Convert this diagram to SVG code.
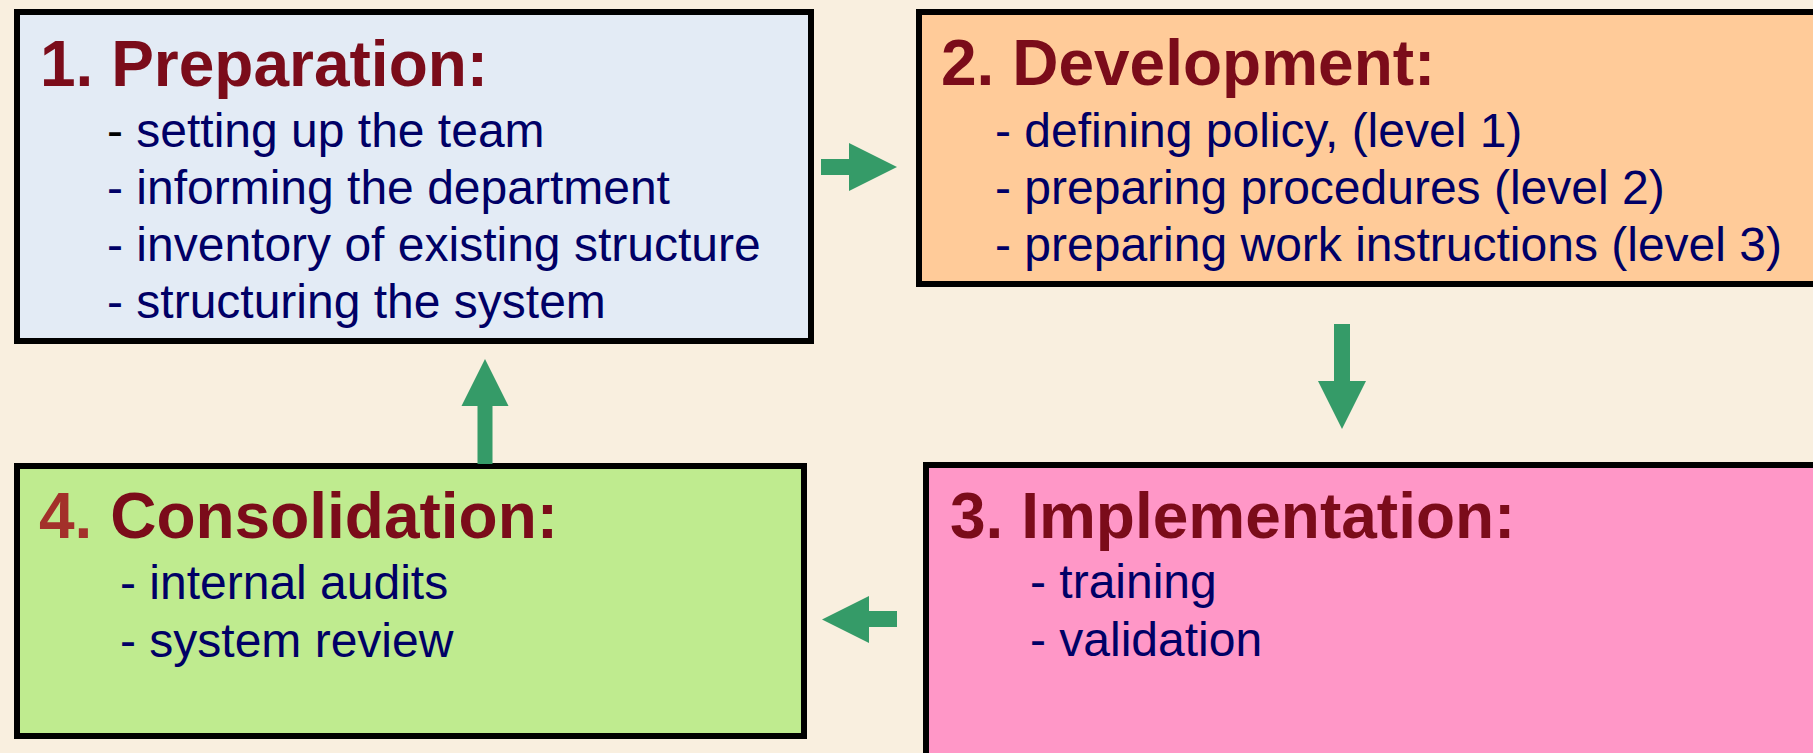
<svg xmlns="http://www.w3.org/2000/svg" width="1813" height="753" viewBox="0 0 1813 753">
<style>
.box{stroke:#000;stroke-width:6}
.title{font-family:"Liberation Sans",Arial,sans-serif;font-weight:bold;font-size:64px;fill:#7b0c1a}
.item{font-family:"Liberation Sans",Arial,sans-serif;font-size:48px;fill:#000066}
.arrow{fill:#359b68}
</style>
<rect x="0" y="0" width="1813" height="753" fill="#f9efdf"/>
<g id="node1">
<rect class="box" x="17" y="12" width="794" height="329" fill="#e3ebf5"/>
<text class="title" x="40" y="86">1. Preparation:</text>
<text class="item" x="107" y="147"><tspan fill="#000">-</tspan> setting up the team</text>
<text class="item" x="107" y="204">- informing the department</text>
<text class="item" x="107" y="261">- inventory of existing structure</text>
<text class="item" x="107" y="318">- structuring the system</text>
</g>
<g id="node2">
<rect class="box" x="919" y="12" width="1000" height="272" fill="#ffcb99"/>
<text class="title" x="941" y="85">2. Development:</text>
<text class="item" x="995" y="147">- defining policy, (level 1)</text>
<text class="item" x="995" y="204">- preparing procedures (level 2)</text>
<text class="item" x="995" y="261">- preparing work instructions (level 3)</text>
</g>
<g id="node3">
<rect class="box" x="926" y="465" width="1000" height="400" fill="#ff97c7"/>
<text class="title" x="950" y="538">3. Implementation:</text>
<text class="item" x="1030" y="598">- training</text>
<text class="item" x="1030" y="656">- validation</text>
</g>
<g id="node4">
<rect class="box" x="17" y="466" width="787" height="270" fill="#bfeb8f"/>
<text class="title" x="39" y="538"><tspan fill="#a3302a">4.</tspan> Consolidation:</text>
<text class="item" x="120" y="599">- internal audits</text>
<text class="item" x="120" y="657">- system review</text>
</g>
<g id="connectors">
<polygon class="arrow" points="821,159 849,159 849,143 897,167 849,191 849,175 821,175"/>
<polygon class="arrow" points="1334,324 1350,324 1350,381 1366,381 1342,429 1318,381 1334,381"/>
<polygon class="arrow" points="897,611 869,611 869,596 822,619.5 869,643 869,627 897,627"/>
<polygon class="arrow" points="477.5,464 477.5,406 461.5,406 485,359 508.5,406 492.5,406 492.5,464"/>
</g>
</svg>
